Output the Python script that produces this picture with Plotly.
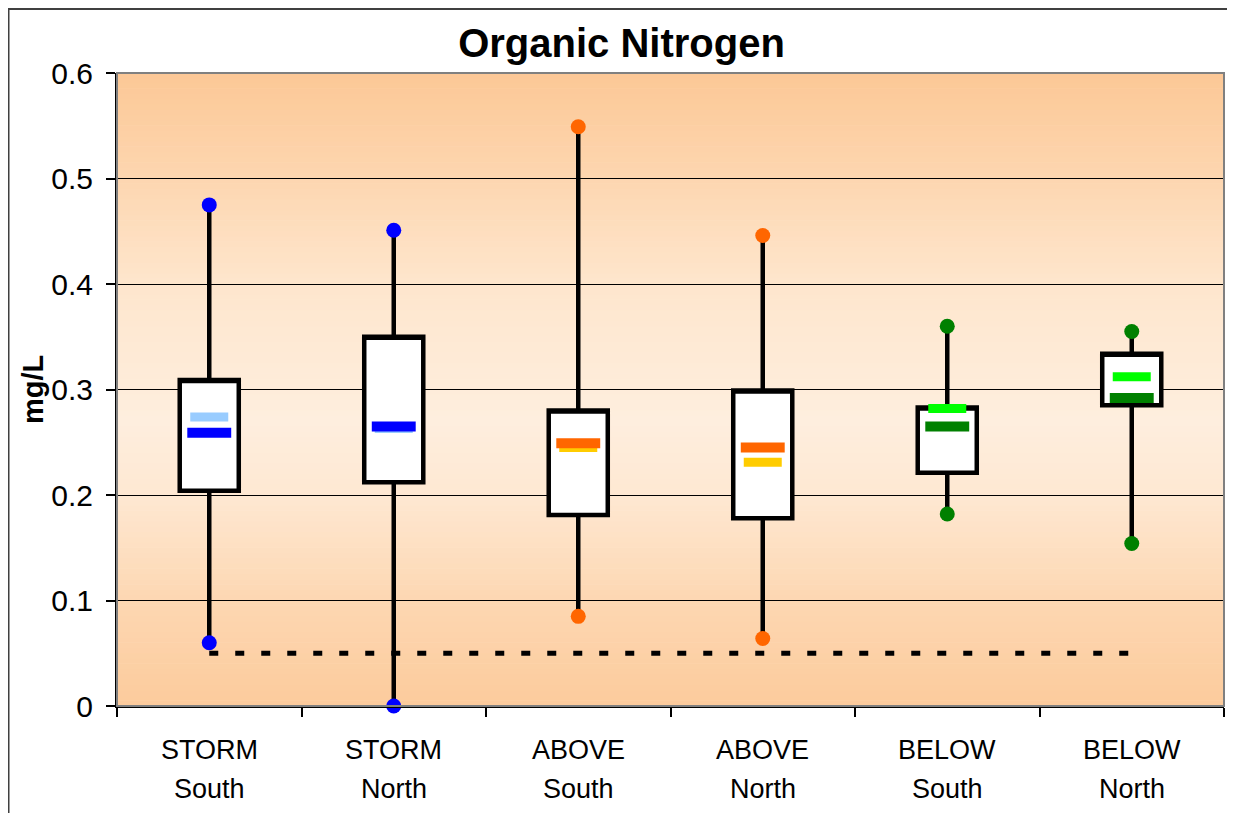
import plotly.graph_objects as go

# ---------------- data ----------------
labels_top = ["STORM", "STORM", "ABOVE", "ABOVE", "BELOW", "BELOW"]
labels_bottom = ["South", "North", "South", "North", "South", "North"]
x_pos = [0.5, 1.5, 2.5, 3.5, 4.5, 5.5]
minimum = [0.060, 0.000, 0.085, 0.064, 0.182, 0.154]
q1 = [0.204, 0.212, 0.181, 0.178, 0.221, 0.285]
q3 = [0.309, 0.350, 0.280, 0.299, 0.283, 0.334]
maximum = [0.475, 0.451, 0.549, 0.446, 0.360, 0.355]
mean_light = [0.274, 0.263, 0.245, 0.231, 0.282, 0.312]
mean_dark = [0.259, 0.265, 0.249, 0.245, 0.265, 0.292]
detection_limit = 0.05
y_ticks = [0, 0.1, 0.2, 0.3, 0.4, 0.5, 0.6]
y_ticktext = ["0", "0.1", "0.2", "0.3", "0.4", "0.5", "0.6"]

dot_colors = ["#0000FF", "#0000FF", "#FF6600", "#FF6600", "#008000", "#008000"]
light_colors = ["#99CCFF", "#99CCFF", "#FFCC00", "#FFCC00", "#00FF00", "#00FF00"]
dark_colors = ["#0000FF", "#0000FF", "#FF6600", "#FF6600", "#008000", "#008000"]

FONT = "Liberation Sans, Arial"

fig = go.Figure()

# whiskers + boxes
for i, xc in enumerate(x_pos):
    fig.add_trace(go.Box(
        x=[xc], q1=[q1[i]], median=[q3[i]], q3=[q3[i]],
        lowerfence=[minimum[i]], upperfence=[maximum[i]],
        width=0.32, whiskerwidth=0, boxpoints=False,
        fillcolor="white", line=dict(color="black", width=4.5),
        showlegend=False, hoverinfo="skip"))

# detection limit dashed line
fig.add_trace(go.Scatter(
    x=[x_pos[0], x_pos[-1]], y=[detection_limit, detection_limit],
    mode="lines", line=dict(color="black", width=5, dash="9px,17px"),
    showlegend=False, hoverinfo="skip"))

# mean bars
for i, xc in enumerate(x_pos):
    fig.add_trace(go.Scatter(
        x=[xc - 0.103, xc + 0.103], y=[mean_light[i], mean_light[i]],
        mode="lines", line=dict(color=light_colors[i], width=9),
        showlegend=False, hoverinfo="skip"))
    fig.add_trace(go.Scatter(
        x=[xc - 0.119, xc + 0.119], y=[mean_dark[i], mean_dark[i]],
        mode="lines", line=dict(color=dark_colors[i], width=10),
        showlegend=False, hoverinfo="skip"))

# min / max dots
fig.add_trace(go.Scatter(
    x=x_pos + x_pos, y=minimum + maximum, mode="markers",
    marker=dict(color=dot_colors + dot_colors, size=15, line=dict(width=0)),
    showlegend=False, hoverinfo="skip", cliponaxis=False))

# ---------------- gradient background ----------------
stops = [(0.0, (252, 203, 156)), (0.1, (253, 215, 178)), (0.2, (254, 232, 210)),
         (0.27, (254, 238, 222)), (0.4, (254, 230, 205)), (0.5, (253, 214, 176)),
         (0.6, (252, 200, 150))]


def col_at(v):
    for (a, ca), (b, cb) in zip(stops[:-1], stops[1:]):
        if a <= v <= b:
            t = (v - a) / (b - a)
            return "rgb(%d,%d,%d)" % tuple(round(ca[k] + t * (cb[k] - ca[k])) for k in range(3))
    return "rgb(%d,%d,%d)" % stops[-1][1]


shapes = []
n = 120
for k in range(n):
    y0 = 0.6 * k / n
    y1 = 0.6 * (k + 1) / n
    shapes.append(dict(type="rect", xref="x", yref="y", x0=0, x1=6, y0=y0, y1=y1 + 0.0005,
                       fillcolor=col_at((y0 + y1) / 2), line=dict(width=0), layer="below"))

# plot area border (gray top/right)
shapes.append(dict(type="rect", xref="paper", yref="paper", x0=0, x1=1, y0=0, y1=1,
                   line=dict(color="#808080", width=2), layer="above"))
# outer chart border
shapes.append(dict(type="rect", xref="paper", yref="paper",
                   x0=-0.0980, x1=1.0072, y0=-0.171, y1=1.1011,
                   line=dict(color="#404040", width=2)))

annotations = []
for i, xc in enumerate(x_pos):
    annotations.append(dict(x=xc, y=-0.0695, xref="x", yref="paper", text=labels_top[i],
                            showarrow=False, yanchor="middle", xanchor="center",
                            font=dict(size=27, family=FONT, color="black")))
    annotations.append(dict(x=xc, y=-0.131, xref="x", yref="paper", text=labels_bottom[i],
                            showarrow=False, yanchor="middle", xanchor="center",
                            font=dict(size=27, family=FONT, color="black")))
annotations.append(dict(x=-0.0759, y=0.5008, xref="paper", yref="paper", text="<b>mg/L</b>",
                        textangle=-90, showarrow=False, xanchor="center", yanchor="middle",
                        font=dict(size=29, family=FONT, color="black")))

fig.update_layout(
    width=1227, height=805,
    margin=dict(l=109, r=11, t=65, b=107),
    paper_bgcolor="white", plot_bgcolor="#FEEEE0",
    title=dict(text="<b>Organic Nitrogen</b>", x=0.5, xref="container", xanchor="center",
               y=0.9565, yanchor="middle",
               font=dict(family=FONT, size=40, color="black")),
    font=dict(family=FONT, color="black"),
    shapes=shapes,
    annotations=annotations,
    showlegend=False,
)

fig.update_xaxes(
    range=[0, 6], tickvals=x_pos, ticktext=["" for _ in x_pos], ticks="",
    showgrid=False, zeroline=False,
    showline=True, linecolor="black", linewidth=2,
    minor=dict(ticks="outside", tick0=0, dtick=1, ticklen=9, tickcolor="black", tickwidth=1.5,
               showgrid=False),
)
fig.update_yaxes(
    range=[0, 0.6], tickvals=y_ticks, ticktext=y_ticktext,
    ticks="outside", ticklen=9, tickcolor="black", tickwidth=1.5,
    tickfont=dict(size=30), ticklabelstandoff=7,
    showgrid=True, gridcolor="black", gridwidth=1,
    zeroline=False, showline=True, linecolor="black", linewidth=2,
)

fig.write_html("out.html")
